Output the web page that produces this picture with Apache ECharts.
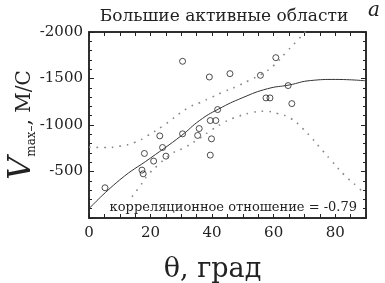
<!DOCTYPE html>
<html>
<head>
<meta charset="utf-8">
<script src="https://cdn.jsdelivr.net/npm/echarts@6/dist/echarts.min.js"></script>
<style>
  html, body { margin: 0; padding: 0; background: #fff; }
  #chart { width: 385px; height: 283px; }
</style>
</head>
<body>
<div id="chart"></div>
<script>
// точки: угол θ (град) и скорость V (м/с)
var thetaPts = [5.2, 17.2, 17.6, 18, 21, 23, 23.9, 25, 30.4, 30.4, 35.3, 35.8, 39.1, 39.4, 39.4, 39.8, 41.2, 41.8, 45.8, 55.7, 57.5, 58.8, 60.7, 64.7, 65.9];
var vPts = [-325, -515, -475, -694, -612, -883, -758, -665, -905, -1685, -888, -962, -1516, -1048, -676, -851, -1048, -1166, -1552, -1534, -1291, -1291, -1724, -1424, -1230];

// регрессия (сплошная линия)
var fitTheta = [0, 10, 20, 30, 36, 42, 50, 58, 65, 72, 80, 90];
var fitV = [-100, -410, -645, -885, -1050, -1170, -1295, -1390, -1430, -1478, -1490, -1475];

// доверительные границы (пунктир)
var upTheta = [0, 5, 10, 15, 19, 24, 32, 36, 40, 44, 48, 52, 56, 60, 64, 68, 71];
var upV = [-762, -758, -772, -815, -885, -990, -1180, -1240, -1300, -1360, -1415, -1480, -1545, -1640, -1780, -1920, -2030];
var lowTheta = [14, 16.3, 19, 22.3, 27, 31.5, 36, 40, 44, 47, 52.5, 57, 61.3, 65.6, 69.4, 72, 74.8, 78.6, 83, 87.2, 89.5];
var lowV = [-229, -330, -455, -565, -694, -765, -860, -950, -1030, -1075, -1130, -1148, -1123, -1070, -963, -874, -767, -622, -461, -336, -260];

var xTicks = [0, 20, 40, 60, 80];
var yTicks = [-2000, -1500, -1000, -500];

var serif = 'DejaVu Serif';
var ink = '#222';

function pairs(xs, ys) {
  return xs.map(function (x, i) { return [x, ys[i]]; });
}

function xAxisCfg(pos, labels) {
  return {
    type: 'value', gridIndex: 0, position: pos, min: 0, max: 90, interval: 5,
    axisLine: { show: true, onZero: false, lineStyle: { color: ink, width: 1.5 } },
    axisTick: { show: true, inside: true, length: 4, lineStyle: { color: ink, width: 1 } },
    splitLine: { show: false },
    axisLabel: {
      show: labels, color: ink, fontFamily: serif, fontSize: 15, margin: 8,
      formatter: function (v) { return xTicks.indexOf(v) >= 0 ? String(v) : ''; }
    }
  };
}

function yAxisCfg(pos, labels) {
  return {
    type: 'value', gridIndex: 0, position: pos, min: -2000, max: 0, interval: 500, inverse: true,
    axisLine: { show: true, onZero: false, lineStyle: { color: ink, width: 1.5 } },
    axisTick: { show: true, inside: true, length: 5, lineStyle: { color: ink, width: 1 } },
    minorTick: { show: true, splitNumber: 5, length: 3, lineStyle: { color: ink, width: 1 } },
    splitLine: { show: false },
    axisLabel: {
      show: labels, color: ink, fontFamily: serif, fontSize: 15, margin: 6,
      formatter: function (v) { return yTicks.indexOf(v) >= 0 ? String(v) : ''; }
    }
  };
}

var xBottom = xAxisCfg('bottom', true);
xBottom.name = 'θ, град';
xBottom.nameLocation = 'middle';
xBottom.nameGap = 38;
xBottom.nameMoveOverlap = false;
xBottom.nameTextStyle = { color: ink, fontFamily: serif, fontSize: 27, padding: [0, 30, 0, 0] };

var yLeft = yAxisCfg('left', true);
yLeft.name = '{v|V}{s|max–}{u|, М/С}';
yLeft.nameLocation = 'middle';
yLeft.nameRotate = 90;
yLeft.nameGap = 51;
yLeft.nameMoveOverlap = false;
yLeft.nameTextStyle = {
  rich: {
    v: { fontFamily: serif, fontStyle: 'italic', fontSize: 32, color: ink },
    s: { fontFamily: serif, fontSize: 12, color: ink, verticalAlign: 'bottom' },
    u: { fontFamily: serif, fontSize: 20, color: ink, verticalAlign: 'bottom', padding: [0, 0, 3, 0] }
  }
};

var chart = echarts.init(document.getElementById('chart'));
chart.setOption({
  animation: false,
  title: {
    text: 'Большие активные области',
    left: 219, top: 3, textAlign: 'center',
    textStyle: { fontFamily: serif, fontSize: 17, fontWeight: 'normal', color: ink }
  },
  grid: {
    left: 89, right: 19, top: 32, bottom: 65, outerBoundsMode: 'none', containLabel: false,
    show: true, borderColor: ink, borderWidth: 1.5, backgroundColor: 'rgba(0,0,0,0)'
  },
  xAxis: [xBottom, xAxisCfg('top', false)],
  yAxis: [yLeft, yAxisCfg('right', false)],
  graphic: [
    { type: 'text', left: 368, top: 1, style: { text: 'a', fontFamily: serif, fontStyle: 'italic', fontSize: 20, fill: ink } },
    { type: 'text', right: 28, top: 201, style: { text: 'корреляционное отношение = -0.79', fontFamily: serif, fontSize: 13, fill: ink } }
  ],
  series: [
    {
      type: 'line', data: pairs(upTheta, upV), smooth: true, showSymbol: false,
      lineStyle: { color: '#888', width: 1.6, type: [1.6, 6] }
    },
    {
      type: 'line', data: pairs(lowTheta, lowV), smooth: true, showSymbol: false,
      lineStyle: { color: '#888', width: 1.6, type: [1.6, 6] }
    },
    {
      type: 'line', data: pairs(fitTheta, fitV), smooth: true, showSymbol: false,
      lineStyle: { color: '#333', width: 1 }
    },
    {
      type: 'scatter', data: pairs(thetaPts, vPts), symbol: 'circle', symbolSize: 6,
      itemStyle: { color: 'rgba(0,0,0,0)', borderColor: ink, borderWidth: 1 }
    }
  ]
});
</script>
</body>
</html>
